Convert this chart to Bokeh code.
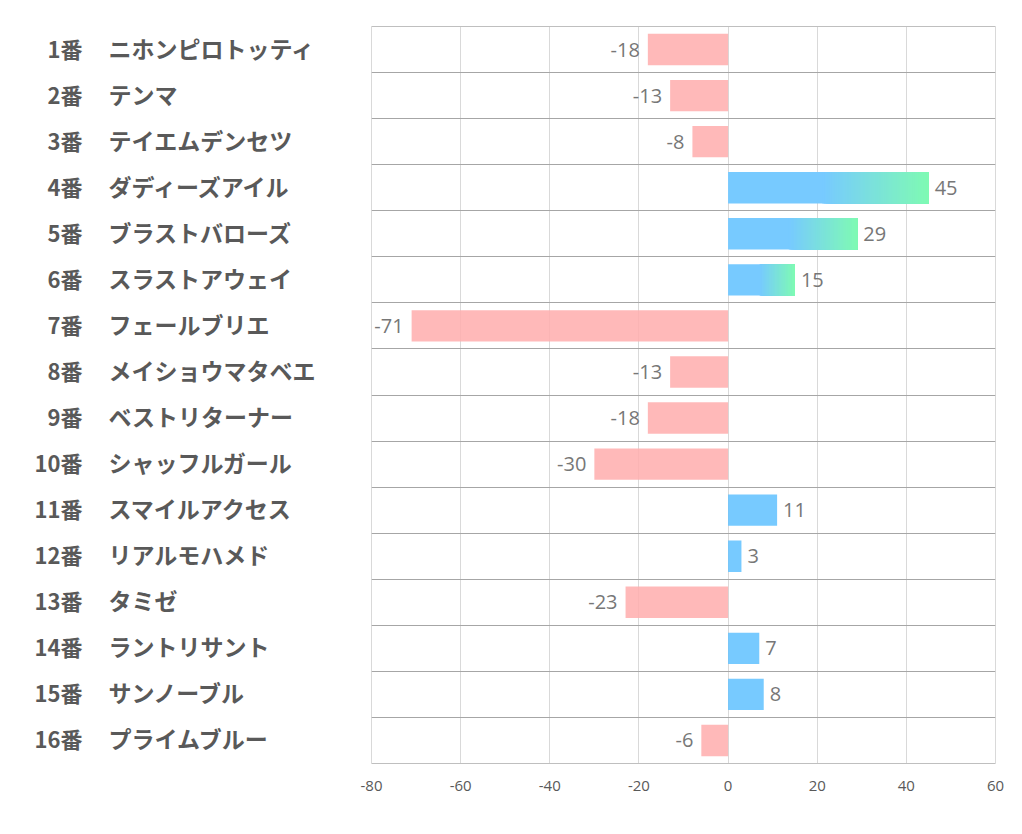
import numpy as np
from bokeh.plotting import figure
from bokeh.models import Range1d, FixedTicker, ColumnDataSource, Grid
from bokeh.layouts import row
from bokeh.core.properties import value
from bokeh.embed import file_html
from bokeh.resources import INLINE

numbers = ["1番", "2番", "3番", "4番", "5番", "6番", "7番", "8番",
           "9番", "10番", "11番", "12番", "13番", "14番", "15番", "16番"]
names = ["ニホンピロトッティ", "テンマ", "テイエムデンセツ", "ダディーズアイル",
         "ブラストバローズ", "スラストアウェイ", "フェールブリエ", "メイショウマタベエ",
         "ベストリターナー", "シャッフルガール", "スマイルアクセス", "リアルモハメド",
         "タミゼ", "ラントリサント", "サンノーブル", "プライムブルー"]
values = [-18, -13, -8, 45, 29, 15, -71, -13, -18, -30, 11, 3, -23, 7, 8, -6]
gradient_horses = ["4番", "5番", "6番"]
x_ticks = [-80, -60, -40, -20, 0, 20, 40, 60]
x_tick_labels = ["-80", "-60", "-40", "-20", "0", "20", "40", "60"]

PINK = "#FFADAD"
BLUE_A = "#5FC1FF"
BLUE = "#77CAFF"
GREEN = "#7FFAB4"
LABEL_GRAY = "#777777"
TEXT_GRAY = "#595959"

n = len(values)
ycent = [n - i - 0.5 for i in range(n)]

p = figure(frame_width=624, frame_height=737,
           x_range=Range1d(-80, 60), y_range=Range1d(0, n),
           y_axis_location=None, output_backend="svg", toolbar_location=None,
           min_border_left=16, min_border_right=20, min_border_top=26,
           min_border_bottom=60)
p.outline_line_color = "#D9D9D9"
p.xaxis.ticker = FixedTicker(ticks=x_ticks)
p.xaxis.major_label_overrides = dict(zip(x_ticks, x_tick_labels))
p.xaxis.axis_line_color = None
p.xaxis.major_tick_line_color = None
p.xaxis.minor_tick_line_color = None
p.xaxis.major_label_text_font = "Open Sans"
p.xaxis.major_label_text_font_size = "15px"
p.xaxis.major_label_text_color = TEXT_GRAY
p.xaxis.major_label_standoff = 11
p.xgrid.grid_line_color = "#D9D9D9"
p.add_layout(Grid(dimension=1, ticker=FixedTicker(ticks=list(range(n + 1))),
                  grid_line_color="#A6A6A6"))
p.hspan(y=[0, n], line_color="#A6A6A6", line_width=1)

H = 0.68
neg = [(ycent[i], values[i]) for i in range(n) if values[i] < 0]
pos = [(ycent[i], values[i]) for i in range(n)
       if values[i] >= 0 and numbers[i] not in gradient_horses]
grad = [(ycent[i], values[i]) for i in range(n) if numbers[i] in gradient_horses]

p.hbar(y=[a for a, b in neg], left=[b for a, b in neg], right=0, height=H,
       fill_color=PINK, fill_alpha=0.85, line_color=None)
p.hbar(y=[a for a, b in pos], left=0, right=[b for a, b in pos], height=H,
       fill_color=BLUE_A, fill_alpha=0.85, line_color=None)


def hex2rgb(h):
    return np.array([int(h[k:k + 2], 16) for k in (1, 3, 5)], dtype=float)


cb, cg = hex2rgb(BLUE), hex2rgb(GREEN)
start_frac = 0.47
steps = 60
gy, gl, gr, gc = [], [], [], []
for yc, v in grad:
    gy.append(yc); gl.append(0); gr.append(v); gc.append(BLUE)
    for k in range(steps):
        t = k / (steps - 1)
        c = cb + (cg - cb) * t
        gy.append(yc)
        gl.append(v * (start_frac + (1 - start_frac) * k / steps))
        gr.append(v)
        gc.append("#%02X%02X%02X" % tuple(int(round(x)) for x in c))
p.hbar(y=gy, left=gl, right=gr, height=H, fill_color=gc, line_color=None)

pos_all = [(ycent[i], values[i]) for i in range(n) if values[i] >= 0]
p.text(x=[b for a, b in pos_all], y=[a for a, b in pos_all],
       text=[str(b) for a, b in pos_all], x_offset=6,
       text_align="left", text_baseline="middle",
       text_font=value("Open Sans"), text_font_size="20px", text_color=LABEL_GRAY)
p.text(x=[b for a, b in neg], y=[a for a, b in neg],
       text=[str(b) for a, b in neg], x_offset=-8,
       text_align="right", text_baseline="middle",
       text_font=value("Open Sans"), text_font_size="20px", text_color=LABEL_GRAY)

lf = figure(frame_width=355, frame_height=737, x_range=Range1d(0, 355),
            y_range=p.y_range, x_axis_location=None, y_axis_location=None,
            output_backend="svg", toolbar_location=None,
            min_border_left=0, min_border_right=0, min_border_top=26,
            min_border_bottom=60)
lf.outline_line_color = None
lf.grid.grid_line_color = None
src = ColumnDataSource(dict(y=ycent, num=numbers, name=names,
                            xn=[82] * n, xm=[108] * n))
lf.text(x="xn", y="y", text="num", source=src, text_align="right",
        text_baseline="middle", y_offset=-2, text_font=value("Noto Sans CJK JP"),
        text_font_style="bold", text_font_size="22px", text_color=TEXT_GRAY)
lf.text(x="xm", y="y", text="name", source=src, text_align="left",
        text_baseline="middle", y_offset=-2, text_font=value("Noto Sans CJK JP"),
        text_font_style="bold", text_font_size="23px", text_color=TEXT_GRAY)

layout = row(lf, p)
open("out.html", "w").write(file_html(layout, INLINE))
